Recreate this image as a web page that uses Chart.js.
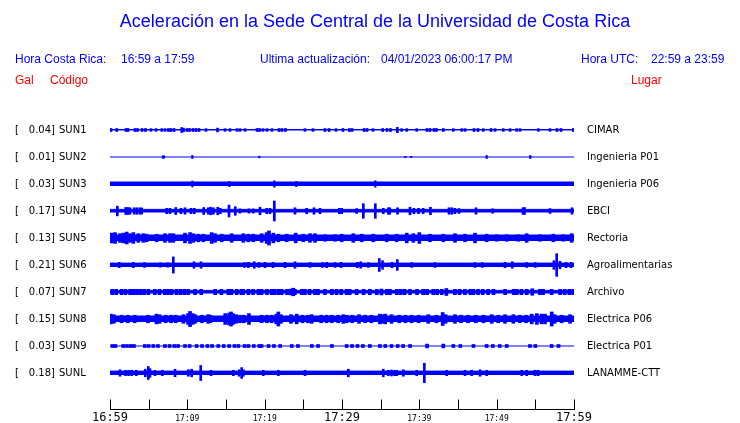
<!DOCTYPE html>
<html>
<head>
<meta charset="utf-8">
<script src="https://cdn.jsdelivr.net/npm/chart.js@4.4.0/dist/chart.umd.min.js"></script>
<style>
  body { margin: 0; background: #fff; }
  #wrap { width: 740px; height: 423px; }
</style>
</head>
<body>
<div id="wrap"><canvas id="sismo" width="740" height="423"></canvas></div>
<script>
// estaciones, pico en Gal y lugar
const stations = ['SUN1', 'SUN2', 'SUN3', 'SUN4', 'SUN5', 'SUN6', 'SUN7', 'SUN8', 'SUN9', 'SUNL'];
const peaks = ['0.04', '0.01', '0.03', '0.17', '0.13', '0.21', '0.07', '0.15', '0.03', '0.18'];
const places = ['CIMAR', 'Ingenieria P01', 'Ingenieria P06', 'EBCI', 'Rectoria', 'Agroalimentarias',
  'Archivo', 'Electrica P06', 'Electrica P01', 'LANAMME-CTT'];

// ruido de fondo (Gal, semiamplitud)
const baseNoise = [0.009, 0, 0.037, 0.03, 0.055, 0.035, 0.03, 0.055, 0, 0.035];

// eventos: [minuto desde 16:59, semiamplitud en Gal]
const sun1 = [[0.13,.028],[0.87,.028],[2.07,.028],[2.33,.028],[3.23,.028],[3.56,.028],[4.14,.028],[4.59,.028],
  [5.3,.025],[5.95,.025],[6.69,.025],[7.11,.025],[7.56,.028],[7.89,.028],[8.28,.028],[9.27,.045],[9.5,.035],
  [9.96,.028],[10.28,.028],[10.73,.028],[11.12,.028],[11.51,.028],[12.41,.025],[13.9,.035],[14.87,.025],
  [15.52,.025],[16.42,.025],[16.81,.025],[17.46,.025],[19.01,.028],[19.33,.028],[19.78,.025],[20.3,.025],
  [20.95,.025],[21.85,.028],[22.24,.028],[22.69,.028],[25.2,.025],[26.25,.025],[27.8,.028],[28.33,.028],
  [29.23,.025],[30.13,.028],[30.95,.028],[31.3,.028],[32.85,.028],[33.23,.028],[34.0,.025],[35.26,.028],
  [35.82,.028],[36.27,.028],[37.15,.05],[37.72,.025],[38.37,.025],[39.66,.025],[40.99,.028],[41.38,.028],
  [41.9,.028],[42.22,.028],[43.1,.028],[44.39,.025],[45.48,.025],[45.91,.025],[47.07,.028],[47.59,.028],
  [48.27,.025],[49.27,.028],[49.79,.025],[50.86,.025],[51.73,.025],[52.59,.025],[53.02,.025],[55.39,.025],
  [56.9,.025],[57.8,.028],[58.32,.028],[59.91,.028]];
const sun2 = [[6.85,.025],[7.0,.02],[10.65,.028],[19.31,.015],[38.19,.012],[38.96,.012],[48.71,.028],[54.35,.028]];
const sun3 = [[10.65,.055],[15.43,.05],[21.25,.06],[24.09,.05],[34.31,.06]];
const sun4 = [[0.95,.09],[2.03,.065],[2.3,.065],[2.59,.06],[3.14,.06],[3.5,.06],[3.9,.06],[4.1,.055],[7.33,.05],
  [7.76,.05],[8.5,.065],[9.18,.05],[9.7,.06],[10.47,.05],[10.9,.05],[12.12,.065],[12.71,.06],[13.0,.07],
  [13.36,.06],[13.93,.07],[14.27,.05],[15.39,.11],[16.2,.08],[16.81,.04],[17.97,.04],[18.53,.04],[19.4,.07],
  [20.26,.05],[20.69,.05],[21.25,.185],[23.92,.06],[25.43,.05],[26.38,.06],[27.16,.05],[29.65,.05],[29.96,.05],
  [31.9,.045],[32.76,.135],[34.31,.135],[35.34,.05],[36.0,.06],[36.17,.06],[37.18,.06],[38.79,.07],[39.3,.05],
  [39.9,.05],[40.5,.05],[41.44,.07],[43.84,.06],[44.2,.06],[44.6,.05],[45.13,.045],[47.33,.06],[49.49,.04],
  [53.4,.06],[53.6,.065],[56.9,.045],[59.74,.06]];
const sun5 = [[0.22,.09],[0.65,.1],[1.29,.08],[1.72,.09],[2.16,.11],[2.59,.08],[3.02,.1],[3.66,.08],[4.31,.08],
  [4.74,.07],[6.04,.07],[7.11,.08],[7.76,.08],[8.19,.08],[9.7,.09],[10.35,.1],[10.78,.08],[11.42,.07],
  [12.07,.07],[13.15,.1],[13.58,.08],[14.44,.07],[15.73,.08],[17.24,.08],[17.89,.07],[18.53,.07],[19.61,.08],
  [20.26,.1],[20.56,.13],[21.12,.09],[21.77,.07],[22.85,.07],[24.01,.09],[25.0,.07],[25.86,.08],[26.51,.08],
  [27.8,.06],[29.1,.06],[29.96,.07],[31.46,.08],[32.55,.07],[34.05,.07],[35.78,.07],[37.07,.07],[38.37,.09],
  [39.22,.08],[40.0,.1],[41.38,.07],[43.1,.07],[44.61,.08],[45.91,.07],[47.2,.09],[48.71,.07],[50.0,.06],
  [51.3,.06],[52.8,.06],[53.88,.08],[55.6,.06],[57.33,.07],[58.62,.06],[59.7,.08]];
const sun6 = [[1.2,.05],[3.02,.05],[4.44,.045],[6.5,.04],[7.5,.04],[8.19,.15],[10.86,.06],[11.77,.06],[17.39,.045],
  [17.89,.05],[18.66,.06],[19.27,.045],[20.04,.05],[21.08,.05],[22.63,.05],[23.92,.06],[25.86,.045],[27.48,.045],
  [28.02,.05],[29.1,.045],[29.87,.05],[31.98,.05],[32.42,.06],[33.4,.045],[34.82,.12],[35.24,.08],[36.47,.05],
  [37.15,.1],[39.01,.045],[42.03,.045],[47.2,.045],[48.14,.045],[51.08,.05],[52.03,.06],[53.88,.045],[55.0,.045],
  [57.4,.08],[57.76,.21],[58.19,.07],[58.97,.05],[59.62,.05]];
const sun7 = [[0.3,.05],[0.8,.05],[1.5,.05],[2.0,.05],[2.6,.05],[3.0,.05],[3.45,.05],[3.9,.05],[4.4,.05],[4.95,.05],
  [5.8,.05],[6.4,.05],[7.1,.05],[7.5,.05],[7.97,.05],[8.6,.05],[9.1,.05],[9.6,.05],[10.1,.05],[11.0,.05],[11.8,.05],
  [13.6,.05],[14.4,.05],[15.3,.05],[15.7,.05],[16.4,.05],[17.0,.05],[17.2,.05],[17.9,.05],[18.5,.05],[19.2,.05],
  [19.6,.05],[20.3,.05],[20.9,.05],[21.3,.05],[21.8,.05],[22.2,.05],[22.9,.05],[23.4,.055],[23.7,.07],[23.9,.05],
  [24.8,.05],[25.2,.05],[25.8,.05],[26.5,.05],[26.9,.05],[27.8,.05],[28.7,.05],[29.3,.05],[29.9,.05],[30.6,.05],
  [31.0,.05],[31.9,.05],[32.8,.05],[33.6,.05],[34.5,.05],[35.1,.055],[35.8,.05],[36.2,.05],[37.1,.05],[37.6,.05],
  [38.1,.05],[38.8,.05],[39.7,.05],[40.5,.05],[41.0,.05],[41.8,.05],[42.3,.05],[42.9,.05],[43.5,.065],[44.6,.05],
  [45.2,.05],[45.9,.05],[46.6,.05],[47.0,.05],[47.6,.05],[48.2,.05],[48.9,.05],[49.6,.05],[51.1,.05],[52.2,.05],
  [52.6,.05],[53.2,.05],[53.9,.05],[54.6,.06],[55.6,.05],[56.0,.05],[57.1,.05],[58.2,.05],[58.8,.05],[59.4,.05],
  [59.9,.05]];
const sun8 = [[0.1,.09],[0.5,.08],[1.5,.07],[2.3,.07],[3.2,.07],[4.9,.07],[6.0,.09],[6.4,.08],[7.2,.07],[7.9,.07],
  [8.5,.07],[9.5,.08],[10.1,.1],[10.35,.14],[10.7,.1],[11.0,.08],[11.9,.07],[12.7,.08],[13.0,.07],[14.9,.1],
  [15.4,.11],[15.65,.13],[15.9,.1],[16.3,.08],[16.8,.07],[17.3,.07],[17.97,.1],[19.6,.07],[20.3,.07],[20.9,.07],
  [21.5,.09],[21.77,.13],[22.1,.08],[23.4,.08],[24.14,.09],[24.9,.07],[25.6,.07],[26.08,.08],[27.3,.07],[28.0,.07],
  [28.67,.07],[29.5,.07],[30.17,.08],[30.6,.07],[31.3,.07],[32.2,.08],[33.0,.07],[33.8,.07],[34.9,.09],[35.3,.08],
  [35.6,.09],[36.4,.08],[37.4,.07],[38.2,.07],[39.0,.07],[39.9,.07],[41.16,.08],[42.2,.07],[43.02,.12],[43.4,.08],
  [44.61,.08],[45.4,.07],[46.3,.07],[47.3,.07],[48.3,.07],[49.36,.08],[50.2,.07],[51.08,.08],[52.16,.08],[53.0,.07],
  [53.8,.07],[54.53,.09],[55.2,.1],[55.8,.09],[56.25,.09],[57.12,.13],[57.5,.08],[58.4,.07],[59.49,.08]];
const sun9 = [[0.3,.028],[0.7,.028],[1.7,.028],[2.2,.028],[2.7,.028],[3.1,.028],[4.5,.028],[5.0,.028],[5.6,.028],
  [6.2,.028],[7.1,.028],[7.7,.028],[8.3,.028],[8.8,.028],[9.7,.028],[10.3,.028],[11.2,.028],[11.9,.028],[12.6,.028],
  [13.2,.028],[14.0,.028],[14.7,.028],[15.4,.028],[16.1,.028],[16.6,.028],[17.4,.028],[17.9,.028],[18.6,.028],
  [19.3,.028],[19.6,.028],[20.5,.028],[21.2,.028],[22.0,.028],[23.5,.028],[24.3,.028],[26.1,.028],[26.9,.028],
  [28.7,.028],[30.6,.028],[31.3,.028],[32.0,.028],[32.7,.028],[33.6,.028],[34.9,.028],[35.6,.028],[36.4,.028],
  [37.2,.028],[37.9,.028],[38.8,.028],[41.0,.035],[43.1,.035],[44.4,.028],[45.3,.028],[47.0,.028],[48.7,.028],
  [49.5,.028],[50.4,.028],[51.3,.028],[54.3,.028],[55.0,.028],[57.1,.028],[58.0,.028]];
const sunl = [[1.29,.06],[2.0,.05],[2.4,.05],[2.8,.05],[3.4,.05],[4.56,.07],[4.95,.12],[5.17,.08],[5.82,.05],
  [6.77,.05],[8.41,.07],[10.13,.06],[10.56,.07],[11.73,.14],[13.06,.05],[15.95,.05],[16.7,.06],[17.03,.1],
  [17.24,.06],[19.82,.05],[21.77,.05],[25.22,.05],[30.82,.07],[35.34,.07],[35.99,.05],[36.4,.055],[36.8,.05],
  [37.07,.05],[37.93,.06],[39.66,.05],[40.65,.18],[43.54,.05],[45.91,.05],[46.77,.05],[47.85,.06],[48.71,.05],
  [53.24,.05],[53.88,.05],[54.96,.05],[55.35,.05]];
const events = [sun1, sun2, sun3, sun4, sun5, sun6, sun7, sun8, sun9, sunl];

const tickLabels = ['16:59', '', '17:09', '', '17:19', '', '17:29', '', '17:39', '', '17:49', '', '17:59'];

const BLUE = '#0000ff';
const RED = '#ff0000';
const ROW_STEP = 0.5; // separacion entre trazas, en Gal
const rowY = i => -ROW_STEP * i;
// ancho de las rafagas en px (estilo)
const burstWidth = [2, 1.5, 1.5, 2, 3, 2, 3, 3, 3, 2];

const datasets = [];
stations.forEach((s, i) => {
  const y0 = rowY(i);
  const b = baseNoise[i];
  datasets.push({
    type: 'line',
    data: [{ x: 0, y: y0 + b }, { x: 60, y: y0 + b }],
    fill: { value: y0 - b },
    borderColor: BLUE,
    backgroundColor: BLUE,
    borderWidth: 1,
    pointRadius: 0
  });
  datasets.push({
    type: 'bar',
    data: events[i].map(([t, a]) => ({ x: t, y: [y0 - a, y0 + a] })),
    backgroundColor: BLUE,
    borderWidth: 0,
    barThickness: burstWidth[i],
    grouped: false
  });
});

const textos = {
  id: 'textos',
  afterDraw(chart) {
    const { ctx, scales: { x, y } } = chart;
    ctx.save();
    ctx.textBaseline = 'middle';

    ctx.fillStyle = BLUE;
    ctx.textAlign = 'center';
    ctx.font = '18px "Liberation Sans", Arial, sans-serif';
    ctx.fillText('Aceleración en la Sede Central de la Universidad de Costa Rica', 375, 22);

    ctx.textAlign = 'left';
    ctx.font = '12px "Liberation Sans", Arial, sans-serif';
    ctx.fillText('Hora Costa Rica:', 15, 60);
    ctx.fillText('16:59 a 17:59', 121, 60);
    ctx.fillText('Ultima actualización:', 260, 60);
    ctx.fillText('04/01/2023 06:00:17 PM', 381, 60);
    ctx.fillText('Hora UTC:', 581, 60);
    ctx.fillText('22:59 a 23:59', 651, 60);

    ctx.fillStyle = RED;
    ctx.fillText('Gal', 15, 81);
    ctx.fillText('Código', 50, 81);
    ctx.fillText('Lugar', 631, 81);

    ctx.fillStyle = '#000';
    ctx.font = '10px "DejaVu Sans", sans-serif';
    stations.forEach((s, i) => {
      const py = y.getPixelForValue(rowY(i));
      ctx.textAlign = 'left';
      ctx.fillText('[', 15, py);
      ctx.textAlign = 'right';
      ctx.fillText(peaks[i] + ']', 55, py);
      ctx.textAlign = 'left';
      ctx.fillText(s, 59, py);
      ctx.fillText(places[i], 587, py);
    });

    // eje de tiempo: linea base y marcas hacia arriba
    ctx.strokeStyle = '#000';
    ctx.lineWidth = 1;
    const bottom = Math.round(chart.chartArea.bottom) + 0.5;
    ctx.beginPath();
    ctx.moveTo(Math.round(x.left), bottom);
    ctx.lineTo(Math.round(x.right) + 1, bottom);
    ctx.stroke();
    x.ticks.forEach(t => {
      const px = Math.round(x.getPixelForValue(t.value)) + 0.5;
      ctx.beginPath();
      ctx.moveTo(px, bottom - 10);
      ctx.lineTo(px, bottom);
      ctx.stroke();
    });
    ctx.restore();
  }
};

new Chart(document.getElementById('sismo'), {
  type: 'line',
  data: { datasets },
  options: {
    responsive: false,
    animation: false,
    events: [],
    layout: { padding: { top: 103, left: 110, right: 166, bottom: 0 } },
    plugins: { legend: { display: false }, tooltip: { enabled: false } },
    scales: {
      x: {
        type: 'linear', min: 0, max: 60, offset: false,
        grid: { display: false, drawTicks: false, offset: false },
        border: { display: false },
        afterFit: s => { s.height = 14; },
        ticks: {
          stepSize: 5, autoSkip: false, maxRotation: 0, padding: 5, color: '#000',
          font: c => (c.tick && c.tick.value % 30 === 0)
            ? { family: '"DejaVu Sans Mono", monospace', size: 12, lineHeight: 0.7 }
            : { family: '"DejaVu Sans Mono", monospace', size: 8, lineHeight: 1.2 },
          callback: v => tickLabels[Math.round(v / 5)]
        }
      },
      y: { type: 'linear', display: false, min: -5.1667, max: 0.5 }
    }
  },
  plugins: [textos]
});
</script>
</body>
</html>
